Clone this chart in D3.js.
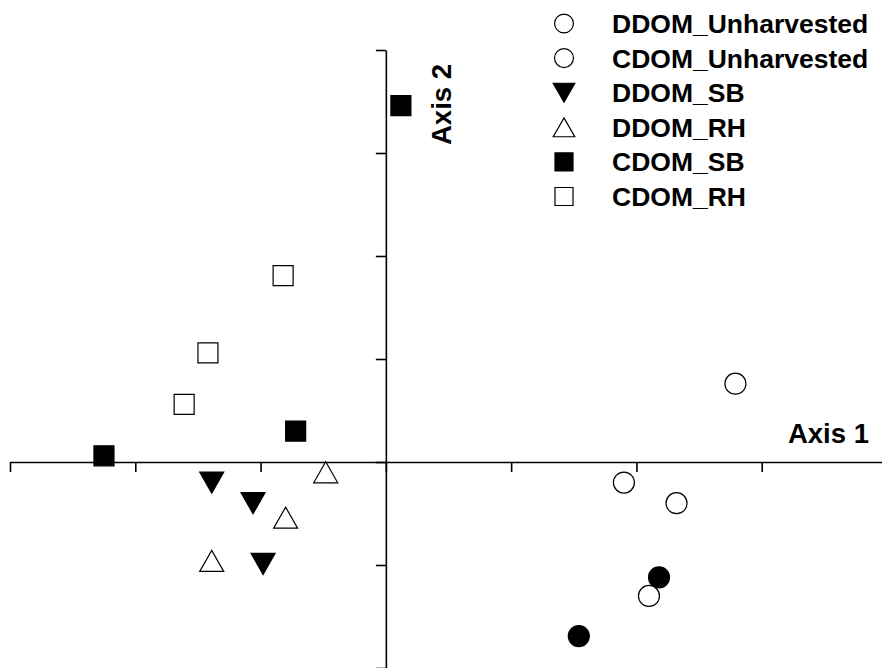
<!DOCTYPE html>
<html>
<head>
<meta charset="utf-8">
<script src="https://cdn.jsdelivr.net/npm/d3@7"></script>
<style>
  html, body { margin: 0; padding: 0; background: #fff; }
  svg { display: block; }
  text { font-family: "Liberation Sans", Arial, sans-serif; font-weight: bold; fill: #000; }
</style>
</head>
<body>
<svg id="chart" width="882" height="668"></svg>
<script>
// ---- Data (ordination scores) ----
const seriesNames = ["DDOM_Unharvested", "CDOM_Unharvested", "DDOM_SB", "DDOM_RH", "CDOM_SB", "CDOM_RH"];

const ddomUnharvestedX = [2.79, 1.90, 2.32, 2.10];
const ddomUnharvestedY = [0.76, -0.20, -0.40, -1.30];

const cdomUnharvestedX = [2.18, 1.54];
const cdomUnharvestedY = [-1.12, -1.69];

const ddomSbX = [-1.39, -1.06, -0.98];
const ddomSbY = [-0.20, -0.40, -0.99];

const ddomRhX = [-0.48, -0.80, -1.39];
const ddomRhY = [-0.10, -0.54, -0.96];

const cdomSbX = [-2.25, -0.72, 0.12];
const cdomSbY = [0.06, 0.30, 3.46];

const cdomRhX = [-0.82, -1.42, -1.61];
const cdomRhY = [1.81, 1.06, 0.56];

const xTicks = [-3, -2, -1, 0, 1, 2, 3];
const yTicks = [-2, -1, 0, 1, 2, 3, 4];
const axisLabels = ["Axis 1", "Axis 2"];

// ---- Setup ----
const svg = d3.select("#chart");
const x = d3.scaleLinear().domain([-3, 3.96]).range([10, 882]);
const y = d3.scaleLinear().domain([-2, 4]).range([668, 50]);

// symbol path builders (centred on bounding box)
function shapePath(kind) {
  if (kind === "circle") {
    const r = 10.5;
    return `M${-r},0A${r},${r} 0 1,0 ${r},0A${r},${r} 0 1,0 ${-r},0Z`;
  }
  if (kind === "square") {
    const h = 10;
    return `M${-h},${-h}H${h}V${h}H${-h}Z`;
  }
  if (kind === "tri-up") {
    return `M0,-10.5L12,10.5L-12,10.5Z`;
  }
  if (kind === "tri-down") {
    return `M0,10.5L12,-10.5L-12,-10.5Z`;
  }
}

// ---- Axes ----
const xAxis = d3.axisBottom(x).tickValues(xTicks).tickSize(10).tickSizeOuter(0).tickFormat("");
const yAxis = d3.axisLeft(y).tickValues(yTicks).tickSize(10).tickSizeOuter(0).tickFormat("");

const gx = svg.append("g").attr("transform", `translate(0,${y(0)})`).call(xAxis);
const gy = svg.append("g").attr("transform", `translate(${x(0)},0)`).call(yAxis);
[gx, gy].forEach(g => {
  g.select(".domain").attr("stroke", "#000").attr("stroke-width", 1.6);
  g.selectAll(".tick line").attr("stroke", "#000").attr("stroke-width", 1.6);
});

svg.append("text")
  .attr("x", 869).attr("y", 443)
  .attr("text-anchor", "end")
  .attr("font-size", 27.5)
  .text(axisLabels[0]);

svg.append("text")
  .attr("transform", "translate(451,145) rotate(-90)")
  .attr("text-anchor", "start")
  .attr("font-size", 27.5)
  .text(axisLabels[1]);

// ---- Points ----
const series = [
  { name: seriesNames[1], xs: cdomUnharvestedX, ys: cdomUnharvestedY, shape: "circle", fill: "#000" },
  { name: seriesNames[0], xs: ddomUnharvestedX, ys: ddomUnharvestedY, shape: "circle", fill: "#fff" },
  { name: seriesNames[2], xs: ddomSbX, ys: ddomSbY, shape: "tri-down", fill: "#000" },
  { name: seriesNames[3], xs: ddomRhX, ys: ddomRhY, shape: "tri-up", fill: "#fff" },
  { name: seriesNames[4], xs: cdomSbX, ys: cdomSbY, shape: "square", fill: "#000" },
  { name: seriesNames[5], xs: cdomRhX, ys: cdomRhY, shape: "square", fill: "#fff" }
];

const pts = svg.append("g");
series.forEach(s => {
  const data = s.xs.map((v, i) => ({ x: v, y: s.ys[i] }));
  pts.append("g").selectAll("path")
    .data(data).enter().append("path")
    .attr("d", shapePath(s.shape))
    .attr("transform", d => `translate(${x(d.x)},${y(d.y)})`)
    .attr("fill", s.fill)
    .attr("stroke", "#000")
    .attr("stroke-width", 1.2);
});

// ---- Legend ----
const legendItems = [
  { name: seriesNames[0], shape: "circle", fill: "#fff" },
  { name: seriesNames[1], shape: "circle", fill: "#fff" },
  { name: seriesNames[2], shape: "tri-down", fill: "#000" },
  { name: seriesNames[3], shape: "tri-up", fill: "#fff" },
  { name: seriesNames[4], shape: "square", fill: "#000" },
  { name: seriesNames[5], shape: "square", fill: "#fff" }
];
const legend = svg.append("g");
legendItems.forEach((d, i) => {
  const cy = 23.5 + i * 34.6;
  const sc = 0.9;
  legend.append("path")
    .attr("d", shapePath(d.shape))
    .attr("transform", `translate(564,${cy}) scale(${sc})`)
    .attr("fill", d.fill)
    .attr("stroke", "#000")
    .attr("stroke-width", 1.2 / sc);
  legend.append("text")
    .attr("x", 612).attr("y", cy)
    .attr("dy", "0.36em")
    .attr("font-size", 26.5)
    .text(d.name);
});
</script>
</body>
</html>
